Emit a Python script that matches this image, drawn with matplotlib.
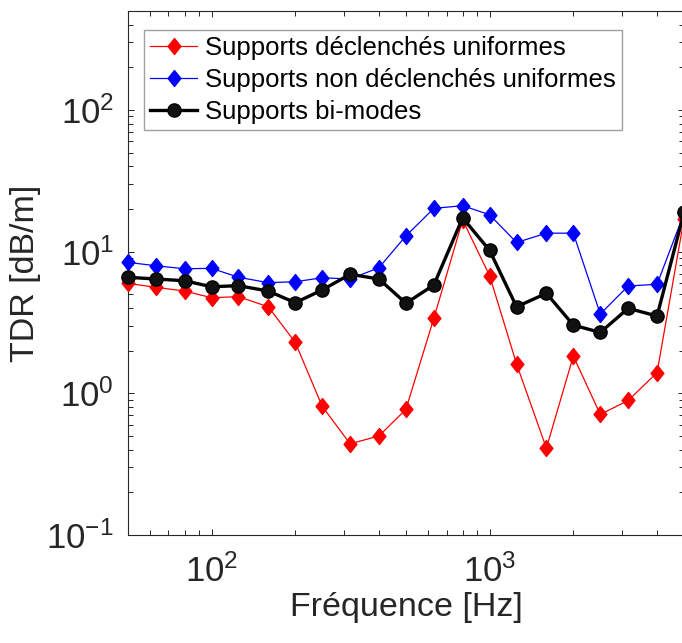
import matplotlib
matplotlib.use("Agg")
import matplotlib.pyplot as plt
from matplotlib.ticker import LogLocator, NullFormatter

plt.rcParams['font.family'] = ['Liberation Sans', 'DejaVu Sans']
plt.rcParams['mathtext.fontset'] = 'custom'
plt.rcParams['mathtext.rm'] = 'Liberation Sans'
plt.rcParams['mathtext.it'] = 'Liberation Sans:italic'
plt.rcParams['mathtext.bf'] = 'Liberation Sans:bold'
plt.rcParams['axes.unicode_minus'] = False

freqs = [50, 63, 80, 100, 125, 160, 200, 250, 315, 400, 500, 630, 800, 1000,
         1250, 1600, 2000, 2500, 3150, 4000, 5000]
red_vals = [5.97, 5.60, 5.27, 4.73, 4.81, 4.08, 2.29, 0.81, 0.44, 0.50, 0.77,
            3.38, 16.7, 6.76, 1.61, 0.41, 1.83, 0.71, 0.89, 1.40, 17.0]
blue_vals = [8.4, 7.95, 7.57, 7.62, 6.59, 6.04, 6.13, 6.54, 6.41, 7.70, 12.9,
             20.2, 21.1, 18.2, 11.6, 13.5, 13.5, 3.63, 5.72, 5.88, 18.6]
black_vals = [6.59, 6.41, 6.23, 5.65, 5.75, 5.27, 4.36, 5.36, 6.92, 6.41, 4.32,
              5.81, 17.3, 10.2, 4.08, 5.08, 3.03, 2.69, 3.98, 3.51, 18.9]
labels = ['Supports déclenchés uniformes',
          'Supports non déclenchés uniformes',
          'Supports bi-modes']

W, H = 682, 643
fig = plt.figure(figsize=(W / 100, H / 100), dpi=100)
left, right, top, bottom = 127.8, 684.0, 10.9, 535.0
ax = fig.add_axes([left / W, 1 - bottom / H, (right - left) / W, (bottom - top) / H])

diamond = [(0, 1), (0.8, 0), (0, -1), (-0.8, 0), (0, 1)]
ax.plot(freqs, red_vals, color='red', lw=0.9, marker=diamond, ms=11.5,
        mec='red', mfc='red', label=labels[0], clip_on=False, zorder=3)
ax.plot(freqs, blue_vals, color='blue', lw=0.9, marker=diamond, ms=11.5,
        mec='blue', mfc='blue', label=labels[1], clip_on=False, zorder=3)
ax.plot(freqs, black_vals, color='black', lw=2.4, marker='o', ms=9.5,
        mec='black', mfc='#111111', label=labels[2], clip_on=False, zorder=4)

ax.set_xscale('log')
ax.set_yscale('log')
ax.set_xlim(50, 5000)
ax.set_ylim(0.1, 500)

ax.yaxis.set_major_locator(LogLocator(base=10, numticks=10))
ax.yaxis.set_minor_locator(LogLocator(base=10, subs=range(2, 10), numticks=20))
ax.yaxis.set_minor_formatter(NullFormatter())
ax.xaxis.set_minor_formatter(NullFormatter())

tc = '#262626'
for s in ax.spines.values():
    s.set_color(tc)
    s.set_linewidth(0.8)
ax.tick_params(which='both', direction='in', top=True, right=True, color=tc,
               width=0.7, labelcolor=tc)
ax.tick_params(which='major', length=4.5, labelsize=25)
ax.tick_params(which='minor', length=3.5)
ax.tick_params(axis='x', which='major', pad=14)
ax.tick_params(axis='y', which='major', pad=10)

ax.set_xlabel('Fréquence [Hz]', fontsize=24.5, color=tc, labelpad=2)
ax.set_ylabel('TDR [dB/m]', fontsize=24.5, color=tc, labelpad=4)

leg = ax.legend(loc='upper left', bbox_to_anchor=(143.5 / W, 1 - 29.5 / H),
                bbox_transform=fig.transFigure, borderaxespad=0,
                fontsize=18.5, frameon=True, fancybox=False, framealpha=1,
                edgecolor='#a0a0a0', handlelength=1.85, handletextpad=0.28,
                labelspacing=0.31, borderpad=0.25)
leg.get_frame().set_linewidth(1.0)

fig.savefig('out.png', dpi=100)
